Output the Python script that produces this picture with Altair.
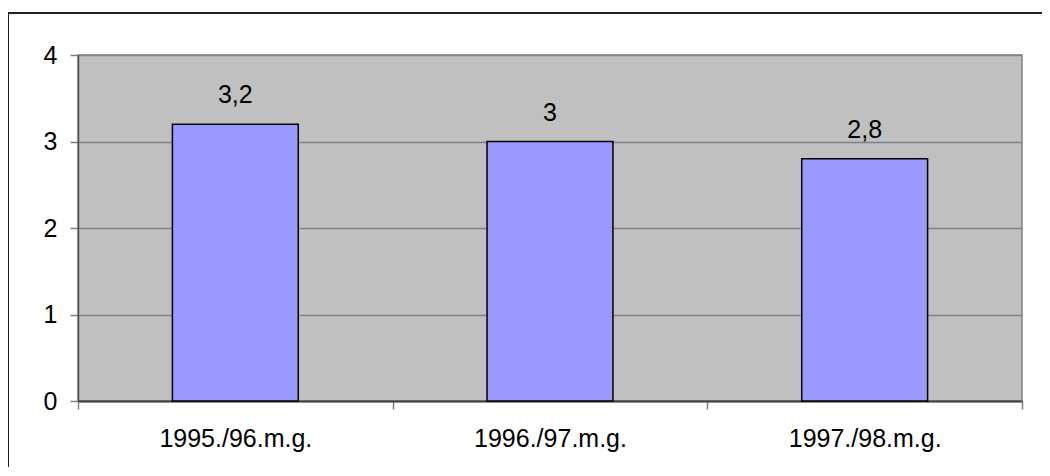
import altair as alt
import pandas as pd

periods = ["1995./96.m.g.", "1996./97.m.g.", "1997./98.m.g."]
values = [3.2, 3.0, 2.8]

df = pd.DataFrame({"period": periods, "value": values})

FONT = "Liberation Sans"
FS = 25

base = alt.Chart(df)

x_enc = alt.X(
    "period:N",
    sort=None,
    title=None,
    scale=alt.Scale(paddingInner=0, paddingOuter=0),
    axis=alt.Axis(
        labelAngle=0,
        tickBand="extent",
        tickSize=8,
        tickColor="#808080",
        tickWidth=1.5,
        domainColor="#404040",
        domainWidth=2,
        labelPadding=17,
        labelFontSize=FS,
        labelFont=FONT,
        labelColor="#000000",
        grid=False,
    ),
)
y_enc = alt.Y(
    "value:Q",
    title=None,
    scale=alt.Scale(domain=[0, 4], nice=False),
    axis=alt.Axis(
        values=[0, 1, 2, 3, 4],
        format="d",
        tickSize=8,
        tickColor="#808080",
        tickWidth=1.5,
        domainColor="#505050",
        domainWidth=1.5,
        grid=True,
        gridColor="#808080",
        gridWidth=1.5,
        labelPadding=13,
        labelFontSize=FS,
        labelFont=FONT,
        labelColor="#000000",
    ),
)

bars = base.mark_bar(
    color="#9999FF", stroke="#000000", strokeWidth=1.5,
    width=alt.RelativeBandSize(0.4),
).encode(x=x_enc, y=y_enc)

labels = base.transform_calculate(
    label="replace(toString(datum.value), '.', ',')"
).mark_text(
    font=FONT, fontSize=FS, color="#000000", baseline="alphabetic", dy=-21
).encode(x=alt.X("period:N", sort=None), y=alt.Y("value:Q"), text="label:N")

frame_left = base.mark_rule(color="#222222", strokeWidth=2, clip=False).encode(
    x=alt.value(-70), y=alt.value(-42), y2=alt.value(413)
)
frame_top = base.mark_rule(color="#222222", strokeWidth=2, clip=False).encode(
    x=alt.value(-71), x2=alt.value(964), y=alt.value(-42)
)

chart = (
    alt.layer(bars, labels, frame_left, frame_top)
    .properties(
        width=944,
        height=346,
        autosize=alt.AutoSizeParams(type="none"),
        padding={"left": 70, "top": 47, "right": 20, "bottom": 66},
        background="#FFFFFF",
    )
    .configure_view(fill="#C0C0C0", stroke="#808080", strokeWidth=1.5)
)

chart.save("out.html", embed_options={"renderer": "svg", "actions": False})
